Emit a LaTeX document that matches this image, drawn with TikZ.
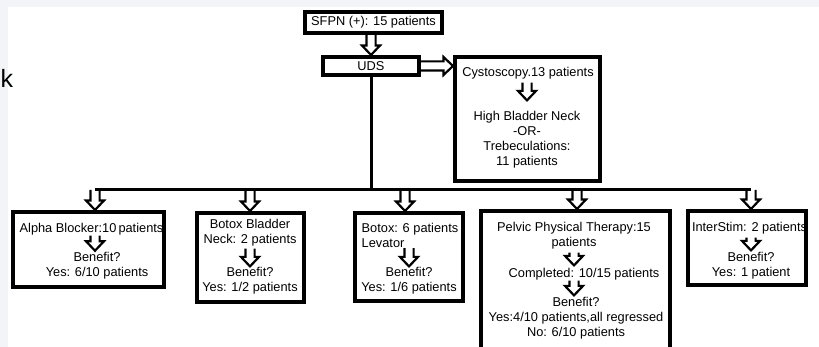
\documentclass[tikz,border=0pt]{standalone}
\usepackage{fontspec}
\setmainfont{Liberation Sans}
\usetikzlibrary{calc}
\definecolor{pagec}{RGB}{243,244,248}
\tikzstyle{box} = [
  draw,
  line width=3.6pt,
  fill=white,
  inner sep=0pt,
]
\tikzstyle{txt} = [
  inner sep=0pt,
  anchor=north,
  align=center,
]
\tikzstyle{bus} = [line width=3pt]
\tikzstyle{fat} = [line width=2.2pt, line join=miter]

% hollow block arrow from #1 to #2
\newcommand\fatarrow[2]{%
  \coordinate (fa-s) at (#1);
  \coordinate (fa-e) at (#2);
  \coordinate (fa-h) at ($(fa-e)!9.5pt!(fa-s)$);
  \draw[fat] ($(fa-s)!4.6pt!90:(fa-e)$) -- ($(fa-h)!4.6pt!90:(fa-e)$)
    -- ($(fa-h)!9pt!90:(fa-e)$) -- (fa-e) -- ($(fa-h)!9pt!-90:(fa-e)$)
    -- ($(fa-h)!4.6pt!-90:(fa-e)$) -- ($(fa-s)!4.6pt!-90:(fa-e)$);
}

\begin{document}
\begin{tikzpicture}[x=1pt, y=-1pt, font=\fontsize{12.8}{15}\selectfont]
      \clip (0,0) rectangle (819,347);
      \fill[pagec] (0,0) rectangle (819,347);
      \fill[white] (8,7) rectangle (819,347);
      \node[inner sep=0pt, anchor=base west, font=\fontsize{25}{30}\selectfont] (k) at (0.5,88) {k};

      % Top
      \node[box, minimum width=137.4pt, minimum height=21.4pt] (sfpn) at (373.5,22.5) {SFPN (+): 15 patients};
      \node[box, minimum width=96.4pt, minimum height=18.4pt] (uds) at (371,66) {UDS};
      \node[box, minimum width=145.4pt, minimum height=124.4pt] (cysto) at (527.5,119) {};
      \node[txt] (cys1) at (528,67.4) {Cystoscopy.13 patients};
      \node[txt] (cys2) at (527,111.4) {High Bladder Neck\\-OR-\\Trebeculations:\\11 patients};

      % Treatments
      \node[box, minimum width=151.4pt, minimum height=75.4pt] (alpha) at (88.5,249.5) {};
      \node[box, minimum width=107.4pt, minimum height=89.4pt] (bbn) at (250.5,257.5) {};
      \node[box, minimum width=108.4pt, minimum height=88.4pt] (blev) at (409,257) {};
      \node[box, minimum width=189.4pt, minimum height=147.4pt] (ppt) at (575.5,284.5) {};
      \node[box, minimum width=118.4pt, minimum height=74.4pt] (istim) at (747,248) {};

      \node[txt] (al1) at (91.5,223.4) {Alpha Blocker:10\,patients};
      \node[txt] (al2) at (97,252.4) {Benefit?\\Yes: 6/10 patients};
      \node[txt] (bb1) at (250,219.4) {Botox Bladder\\Neck: 2 patients};
      \node[txt] (bb2) at (250,267.4) {Benefit?\\Yes: 1/2 patients};
      \node[txt, anchor=north west, align=left] (bl1) at (361.5,223.4) {Botox: 6 patients\\Levator};
      \node[txt] (bl2) at (409,267.4) {Benefit?\\Yes: 1/6 patients};
      \node[txt] (pp1) at (574,222.4) {Pelvic Physical Therapy:15\\patients};
      \node[txt] (pp2) at (584,268.4) {Completed: 10/15 patients};
      \node[txt] (pp3) at (576,297.4) {Benefit?\\Yes:4/10 patients,all regressed\\No: 6/10 patients};
      \node[txt] (is1) at (749.5,222.4) {InterStim: 2 patients};
      \node[txt] (is2) at (751,252.4) {Benefit?\\Yes: 1 patient};

      % Bus
      \coordinate (j1) at (95,190);
      \coordinate (j2) at (250,190);
      \coordinate (j3) at (405,190);
      \coordinate (j4) at (577,190);
      \coordinate (j5) at (751,190);
      \draw[bus] (uds.south) -- (uds.south |- j1);
      \draw[bus] (j1) -- (j5);

      % Arrows
      \fatarrow{sfpn.south -| uds}{uds.north}
      \fatarrow{uds.east}{uds.east -| cysto.west}
      \fatarrow{$(cys1.south -| cys2.north)+(0,3)$}{$(cys2.north)+(0,-11)$}
      \fatarrow{j1}{j1 |- alpha.north}
      \fatarrow{j2}{j2 |- bbn.north}
      \fatarrow{j3}{j3 |- blev.north}
      \fatarrow{j4}{j4 |- ppt.north}
      \fatarrow{j5}{j5 |- istim.north}
      \fatarrow{al1.south -| 95,0}{$(al1.south -| 95,0)+(0,15)$}
      \fatarrow{$(bb1.south)+(0,2)$}{$(bb2.north)+(0,-1)$}
      \fatarrow{bl1.south -| bl2.north}{$(bl2.north)+(0,-1)$}
      \fatarrow{$(pp1.south)+(0,3)$}{$(pp1.south |- pp2.north)+(0,-3)$}
      \fatarrow{pp2.south -| pp1.south}{$(pp1.south |- pp3.north)+(0,-2)$}
      \fatarrow{$(is1.south -| is2.north)+(0,3)$}{$(is2.north)+(0,-2)$}
    \end{tikzpicture}
\end{document}
